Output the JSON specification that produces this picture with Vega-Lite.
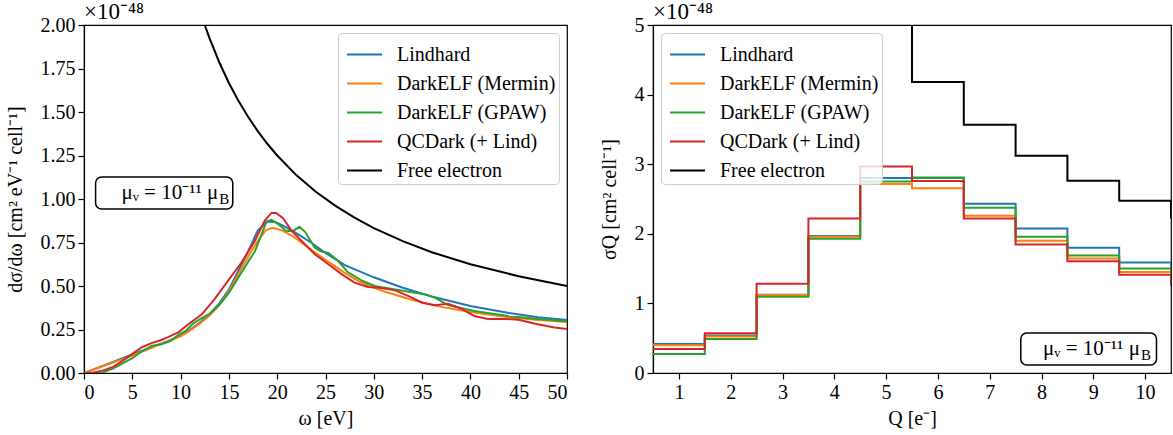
{
  "$schema": "https://vega.github.io/schema/vega-lite/v6.json",
  "autosize": {"type": "pad"},
  "padding": {"left": 4, "top": 0, "right": 0, "bottom": 0},
  "spacing": 29,
  "config": {
    "font": "Liberation Serif",
    "view": {"stroke": "black", "strokeWidth": 1.2},
    "title": {"fontSize": 23, "fontWeight": "normal", "anchor": "start", "frame": "group", "offset": 2, "dy": 11, "color": "black", "font": "Liberation Serif"},
    "axis": {"domainColor": "black", "domainWidth": 1.2, "tickColor": "black", "tickWidth": 1.2, "tickSize": 6, "labelColor": "black", "titleColor": "black", "labelFontSize": 20, "titleFontSize": 20, "titleFontWeight": "normal", "grid": false, "labelPadding": 3, "labelFont": "Liberation Serif", "titleFont": "Liberation Serif"},
    "axisY": {"titlePadding": 15},
    "axisX": {"titlePadding": 6},
    "legend": {"title": null, "labelFontSize": 20, "labelFont": "Liberation Serif", "labelColor": "black", "symbolType": "stroke", "symbolSize": 1225, "symbolStrokeWidth": 2.5, "symbolOffset": 5, "rowPadding": -6, "labelOffset": 14, "padding": 3, "fillColor": "rgba(255,255,255,0.8)", "strokeColor": "#cccccc", "cornerRadius": 4, "offset": 8, "labelLimit": 400}
  },
  "datasets": {
    "left": [
      {"series": "Lindhard", "omega": 0, "val": 0}, {"series": "Lindhard", "omega": 2, "val": 0.042}, {"series": "Lindhard", "omega": 4, "val": 0.085}, {"series": "Lindhard", "omega": 5, "val": 0.106}, {"series": "Lindhard", "omega": 7, "val": 0.148}, {"series": "Lindhard", "omega": 9, "val": 0.19}, {"series": "Lindhard", "omega": 10, "val": 0.215}, {"series": "Lindhard", "omega": 11, "val": 0.25}, {"series": "Lindhard", "omega": 12, "val": 0.29}, {"series": "Lindhard", "omega": 13, "val": 0.338}, {"series": "Lindhard", "omega": 14, "val": 0.4}, {"series": "Lindhard", "omega": 15, "val": 0.48}, {"series": "Lindhard", "omega": 16, "val": 0.59}, {"series": "Lindhard", "omega": 17, "val": 0.7}, {"series": "Lindhard", "omega": 18, "val": 0.82}, {"series": "Lindhard", "omega": 19, "val": 0.87}, {"series": "Lindhard", "omega": 19.8, "val": 0.868}, {"series": "Lindhard", "omega": 20.5, "val": 0.85}, {"series": "Lindhard", "omega": 21.5, "val": 0.82}, {"series": "Lindhard", "omega": 22.5, "val": 0.785}, {"series": "Lindhard", "omega": 23.5, "val": 0.75}, {"series": "Lindhard", "omega": 25, "val": 0.69}, {"series": "Lindhard", "omega": 27, "val": 0.62}, {"series": "Lindhard", "omega": 30, "val": 0.55}, {"series": "Lindhard", "omega": 33, "val": 0.49}, {"series": "Lindhard", "omega": 36, "val": 0.44}, {"series": "Lindhard", "omega": 40, "val": 0.385}, {"series": "Lindhard", "omega": 44, "val": 0.345}, {"series": "Lindhard", "omega": 47, "val": 0.32}, {"series": "Lindhard", "omega": 50, "val": 0.305},
      {"series": "DarkELF (Mermin)", "omega": 0, "val": 0}, {"series": "DarkELF (Mermin)", "omega": 2, "val": 0.04}, {"series": "DarkELF (Mermin)", "omega": 4, "val": 0.08}, {"series": "DarkELF (Mermin)", "omega": 5, "val": 0.1}, {"series": "DarkELF (Mermin)", "omega": 7, "val": 0.145}, {"series": "DarkELF (Mermin)", "omega": 9, "val": 0.19}, {"series": "DarkELF (Mermin)", "omega": 10, "val": 0.21}, {"series": "DarkELF (Mermin)", "omega": 11, "val": 0.245}, {"series": "DarkELF (Mermin)", "omega": 12, "val": 0.285}, {"series": "DarkELF (Mermin)", "omega": 13, "val": 0.33}, {"series": "DarkELF (Mermin)", "omega": 14, "val": 0.39}, {"series": "DarkELF (Mermin)", "omega": 15, "val": 0.47}, {"series": "DarkELF (Mermin)", "omega": 16, "val": 0.57}, {"series": "DarkELF (Mermin)", "omega": 17, "val": 0.67}, {"series": "DarkELF (Mermin)", "omega": 18, "val": 0.76}, {"series": "DarkELF (Mermin)", "omega": 18.8, "val": 0.82}, {"series": "DarkELF (Mermin)", "omega": 19.5, "val": 0.835}, {"series": "DarkELF (Mermin)", "omega": 20.5, "val": 0.82}, {"series": "DarkELF (Mermin)", "omega": 21.5, "val": 0.79}, {"series": "DarkELF (Mermin)", "omega": 23, "val": 0.73}, {"series": "DarkELF (Mermin)", "omega": 25, "val": 0.65}, {"series": "DarkELF (Mermin)", "omega": 27, "val": 0.575}, {"series": "DarkELF (Mermin)", "omega": 28.5, "val": 0.525}, {"series": "DarkELF (Mermin)", "omega": 31, "val": 0.47}, {"series": "DarkELF (Mermin)", "omega": 34, "val": 0.42}, {"series": "DarkELF (Mermin)", "omega": 37, "val": 0.38}, {"series": "DarkELF (Mermin)", "omega": 40, "val": 0.35}, {"series": "DarkELF (Mermin)", "omega": 44, "val": 0.32}, {"series": "DarkELF (Mermin)", "omega": 47, "val": 0.305}, {"series": "DarkELF (Mermin)", "omega": 50, "val": 0.293},
      {"series": "DarkELF (GPAW)", "omega": 0, "val": 0}, {"series": "DarkELF (GPAW)", "omega": 1, "val": 0}, {"series": "DarkELF (GPAW)", "omega": 2, "val": 0.005}, {"series": "DarkELF (GPAW)", "omega": 3, "val": 0.025}, {"series": "DarkELF (GPAW)", "omega": 4, "val": 0.055}, {"series": "DarkELF (GPAW)", "omega": 5, "val": 0.085}, {"series": "DarkELF (GPAW)", "omega": 6, "val": 0.125}, {"series": "DarkELF (GPAW)", "omega": 7, "val": 0.155}, {"series": "DarkELF (GPAW)", "omega": 8, "val": 0.165}, {"series": "DarkELF (GPAW)", "omega": 9, "val": 0.185}, {"series": "DarkELF (GPAW)", "omega": 9.8, "val": 0.22}, {"series": "DarkELF (GPAW)", "omega": 10.5, "val": 0.24}, {"series": "DarkELF (GPAW)", "omega": 11.2, "val": 0.28}, {"series": "DarkELF (GPAW)", "omega": 12, "val": 0.31}, {"series": "DarkELF (GPAW)", "omega": 13, "val": 0.34}, {"series": "DarkELF (GPAW)", "omega": 14, "val": 0.39}, {"series": "DarkELF (GPAW)", "omega": 15, "val": 0.46}, {"series": "DarkELF (GPAW)", "omega": 16, "val": 0.55}, {"series": "DarkELF (GPAW)", "omega": 17, "val": 0.64}, {"series": "DarkELF (GPAW)", "omega": 17.7, "val": 0.7}, {"series": "DarkELF (GPAW)", "omega": 18.4, "val": 0.8}, {"series": "DarkELF (GPAW)", "omega": 18.9, "val": 0.87}, {"series": "DarkELF (GPAW)", "omega": 19.4, "val": 0.88}, {"series": "DarkELF (GPAW)", "omega": 20.1, "val": 0.856}, {"series": "DarkELF (GPAW)", "omega": 20.9, "val": 0.817}, {"series": "DarkELF (GPAW)", "omega": 21.6, "val": 0.815}, {"series": "DarkELF (GPAW)", "omega": 22.3, "val": 0.84}, {"series": "DarkELF (GPAW)", "omega": 22.9, "val": 0.81}, {"series": "DarkELF (GPAW)", "omega": 23.9, "val": 0.72}, {"series": "DarkELF (GPAW)", "omega": 24.5, "val": 0.7}, {"series": "DarkELF (GPAW)", "omega": 25.3, "val": 0.69}, {"series": "DarkELF (GPAW)", "omega": 26.3, "val": 0.645}, {"series": "DarkELF (GPAW)", "omega": 27.3, "val": 0.58}, {"series": "DarkELF (GPAW)", "omega": 28.8, "val": 0.53}, {"series": "DarkELF (GPAW)", "omega": 30.1, "val": 0.5}, {"series": "DarkELF (GPAW)", "omega": 32.2, "val": 0.48}, {"series": "DarkELF (GPAW)", "omega": 33.6, "val": 0.467}, {"series": "DarkELF (GPAW)", "omega": 35.3, "val": 0.452}, {"series": "DarkELF (GPAW)", "omega": 36.3, "val": 0.433}, {"series": "DarkELF (GPAW)", "omega": 37.7, "val": 0.39}, {"series": "DarkELF (GPAW)", "omega": 40.4, "val": 0.356}, {"series": "DarkELF (GPAW)", "omega": 43.9, "val": 0.327}, {"series": "DarkELF (GPAW)", "omega": 47, "val": 0.31}, {"series": "DarkELF (GPAW)", "omega": 50, "val": 0.297},
      {"series": "QCDark (+ Lind)", "omega": 0, "val": 0}, {"series": "QCDark (+ Lind)", "omega": 1, "val": 0.003}, {"series": "QCDark (+ Lind)", "omega": 2, "val": 0.015}, {"series": "QCDark (+ Lind)", "omega": 3, "val": 0.035}, {"series": "QCDark (+ Lind)", "omega": 4, "val": 0.07}, {"series": "QCDark (+ Lind)", "omega": 5, "val": 0.11}, {"series": "QCDark (+ Lind)", "omega": 6, "val": 0.148}, {"series": "QCDark (+ Lind)", "omega": 7, "val": 0.172}, {"series": "QCDark (+ Lind)", "omega": 8, "val": 0.19}, {"series": "QCDark (+ Lind)", "omega": 8.7, "val": 0.206}, {"series": "QCDark (+ Lind)", "omega": 9.8, "val": 0.235}, {"series": "QCDark (+ Lind)", "omega": 10.8, "val": 0.28}, {"series": "QCDark (+ Lind)", "omega": 12.2, "val": 0.337}, {"series": "QCDark (+ Lind)", "omega": 13.5, "val": 0.423}, {"series": "QCDark (+ Lind)", "omega": 14.9, "val": 0.529}, {"series": "QCDark (+ Lind)", "omega": 16.3, "val": 0.635}, {"series": "QCDark (+ Lind)", "omega": 17.7, "val": 0.76}, {"series": "QCDark (+ Lind)", "omega": 18.7, "val": 0.875}, {"series": "QCDark (+ Lind)", "omega": 19.4, "val": 0.92}, {"series": "QCDark (+ Lind)", "omega": 19.9, "val": 0.92}, {"series": "QCDark (+ Lind)", "omega": 20.6, "val": 0.89}, {"series": "QCDark (+ Lind)", "omega": 21.5, "val": 0.817}, {"series": "QCDark (+ Lind)", "omega": 22.5, "val": 0.76}, {"series": "QCDark (+ Lind)", "omega": 23.9, "val": 0.683}, {"series": "QCDark (+ Lind)", "omega": 25.3, "val": 0.625}, {"series": "QCDark (+ Lind)", "omega": 26.7, "val": 0.567}, {"series": "QCDark (+ Lind)", "omega": 28, "val": 0.519}, {"series": "QCDark (+ Lind)", "omega": 29.4, "val": 0.494}, {"series": "QCDark (+ Lind)", "omega": 30.8, "val": 0.488}, {"series": "QCDark (+ Lind)", "omega": 32.2, "val": 0.475}, {"series": "QCDark (+ Lind)", "omega": 33.6, "val": 0.442}, {"series": "QCDark (+ Lind)", "omega": 35, "val": 0.404}, {"series": "QCDark (+ Lind)", "omega": 36.3, "val": 0.39}, {"series": "QCDark (+ Lind)", "omega": 37.7, "val": 0.398}, {"series": "QCDark (+ Lind)", "omega": 39, "val": 0.371}, {"series": "QCDark (+ Lind)", "omega": 40.4, "val": 0.327}, {"series": "QCDark (+ Lind)", "omega": 41.8, "val": 0.311}, {"series": "QCDark (+ Lind)", "omega": 43.6, "val": 0.311}, {"series": "QCDark (+ Lind)", "omega": 45, "val": 0.306}, {"series": "QCDark (+ Lind)", "omega": 46.7, "val": 0.283}, {"series": "QCDark (+ Lind)", "omega": 48.7, "val": 0.262}, {"series": "QCDark (+ Lind)", "omega": 50, "val": 0.253},
      {"series": "Free electron", "omega": 12, "val": 2.083}, {"series": "Free electron", "omega": 12.5, "val": 2.0}, {"series": "Free electron", "omega": 13, "val": 1.923}, {"series": "Free electron", "omega": 14, "val": 1.786}, {"series": "Free electron", "omega": 15, "val": 1.667}, {"series": "Free electron", "omega": 16, "val": 1.5625}, {"series": "Free electron", "omega": 17, "val": 1.471}, {"series": "Free electron", "omega": 18, "val": 1.389}, {"series": "Free electron", "omega": 19, "val": 1.316}, {"series": "Free electron", "omega": 20, "val": 1.25}, {"series": "Free electron", "omega": 22, "val": 1.136}, {"series": "Free electron", "omega": 24, "val": 1.042}, {"series": "Free electron", "omega": 26, "val": 0.962}, {"series": "Free electron", "omega": 28, "val": 0.893}, {"series": "Free electron", "omega": 30, "val": 0.833}, {"series": "Free electron", "omega": 33, "val": 0.758}, {"series": "Free electron", "omega": 36, "val": 0.694}, {"series": "Free electron", "omega": 40, "val": 0.625}, {"series": "Free electron", "omega": 45, "val": 0.556}, {"series": "Free electron", "omega": 50, "val": 0.5}
    ],
    "right": [
      {"series": "Lindhard", "Q_edge": 0.5, "sigma": 0.418}, {"series": "Lindhard", "Q_edge": 1.5, "sigma": 0.538}, {"series": "Lindhard", "Q_edge": 2.5, "sigma": 1.125}, {"series": "Lindhard", "Q_edge": 3.5, "sigma": 1.97}, {"series": "Lindhard", "Q_edge": 4.5, "sigma": 2.8}, {"series": "Lindhard", "Q_edge": 5.5, "sigma": 2.8}, {"series": "Lindhard", "Q_edge": 6.5, "sigma": 2.43}, {"series": "Lindhard", "Q_edge": 7.5, "sigma": 2.077}, {"series": "Lindhard", "Q_edge": 8.5, "sigma": 1.8}, {"series": "Lindhard", "Q_edge": 9.5, "sigma": 1.587}, {"series": "Lindhard", "Q_edge": 10.5, "sigma": 1.42},
      {"series": "DarkELF (Mermin)", "Q_edge": 0.5, "sigma": 0.4}, {"series": "DarkELF (Mermin)", "Q_edge": 1.5, "sigma": 0.524}, {"series": "DarkELF (Mermin)", "Q_edge": 2.5, "sigma": 1.12}, {"series": "DarkELF (Mermin)", "Q_edge": 3.5, "sigma": 1.957}, {"series": "DarkELF (Mermin)", "Q_edge": 4.5, "sigma": 2.716}, {"series": "DarkELF (Mermin)", "Q_edge": 5.5, "sigma": 2.654}, {"series": "DarkELF (Mermin)", "Q_edge": 6.5, "sigma": 2.26}, {"series": "DarkELF (Mermin)", "Q_edge": 7.5, "sigma": 1.9}, {"series": "DarkELF (Mermin)", "Q_edge": 8.5, "sigma": 1.644}, {"series": "DarkELF (Mermin)", "Q_edge": 9.5, "sigma": 1.452}, {"series": "DarkELF (Mermin)", "Q_edge": 10.5, "sigma": 1.28},
      {"series": "DarkELF (GPAW)", "Q_edge": 0.5, "sigma": 0.274}, {"series": "DarkELF (GPAW)", "Q_edge": 1.5, "sigma": 0.49}, {"series": "DarkELF (GPAW)", "Q_edge": 2.5, "sigma": 1.096}, {"series": "DarkELF (GPAW)", "Q_edge": 3.5, "sigma": 1.93}, {"series": "DarkELF (GPAW)", "Q_edge": 4.5, "sigma": 2.75}, {"series": "DarkELF (GPAW)", "Q_edge": 5.5, "sigma": 2.808}, {"series": "DarkELF (GPAW)", "Q_edge": 6.5, "sigma": 2.375}, {"series": "DarkELF (GPAW)", "Q_edge": 7.5, "sigma": 1.957}, {"series": "DarkELF (GPAW)", "Q_edge": 8.5, "sigma": 1.69}, {"series": "DarkELF (GPAW)", "Q_edge": 9.5, "sigma": 1.5}, {"series": "DarkELF (GPAW)", "Q_edge": 10.5, "sigma": 1.35},
      {"series": "QCDark (+ Lind)", "Q_edge": 0.5, "sigma": 0.346}, {"series": "QCDark (+ Lind)", "Q_edge": 1.5, "sigma": 0.572}, {"series": "QCDark (+ Lind)", "Q_edge": 2.5, "sigma": 1.284}, {"series": "QCDark (+ Lind)", "Q_edge": 3.5, "sigma": 2.22}, {"series": "QCDark (+ Lind)", "Q_edge": 4.5, "sigma": 2.966}, {"series": "QCDark (+ Lind)", "Q_edge": 5.5, "sigma": 2.76}, {"series": "QCDark (+ Lind)", "Q_edge": 6.5, "sigma": 2.22}, {"series": "QCDark (+ Lind)", "Q_edge": 7.5, "sigma": 1.846}, {"series": "QCDark (+ Lind)", "Q_edge": 8.5, "sigma": 1.606}, {"series": "QCDark (+ Lind)", "Q_edge": 9.5, "sigma": 1.413}, {"series": "QCDark (+ Lind)", "Q_edge": 10.5, "sigma": 1.25},
      {"series": "Free electron", "Q_edge": 0.5, "sigma": 25}, {"series": "Free electron", "Q_edge": 1.5, "sigma": 12.5}, {"series": "Free electron", "Q_edge": 2.5, "sigma": 8.5}, {"series": "Free electron", "Q_edge": 3.5, "sigma": 6.4}, {"series": "Free electron", "Q_edge": 4.5, "sigma": 5.1}, {"series": "Free electron", "Q_edge": 5.5, "sigma": 4.18}, {"series": "Free electron", "Q_edge": 6.5, "sigma": 3.567}, {"series": "Free electron", "Q_edge": 7.5, "sigma": 3.12}, {"series": "Free electron", "Q_edge": 8.5, "sigma": 2.764}, {"series": "Free electron", "Q_edge": 9.5, "sigma": 2.476}, {"series": "Free electron", "Q_edge": 10.5, "sigma": 2.22}
    ]
  },
  "hconcat": [
    {
      "width": 483,
      "height": 348,
      "title": {"text": "×10⁻⁴⁸"},
      "layer": [
        {
          "data": {"name": "left"},
          "mark": {"type": "line", "clip": true},
          "encoding": {
            "x": {"field": "omega", "type": "quantitative", "scale": {"domain": [0, 50], "nice": false}, "axis": {"values": [0, 5, 10, 15, 20, 25, 30, 35, 40, 45, 50], "title": "ω [eV]"}},
            "y": {"field": "val", "type": "quantitative", "scale": {"domain": [0, 2], "nice": false}, "axis": {"values": [0, 0.25, 0.5, 0.75, 1, 1.25, 1.5, 1.75, 2], "format": ".2f", "title": "dσ/dω [cm² eV⁻¹ cell⁻¹]"}},
            "color": {"field": "series", "type": "nominal", "sort": null, "scale": {"domain": ["Lindhard", "DarkELF (Mermin)", "DarkELF (GPAW)", "QCDark (+ Lind)", "Free electron"], "range": ["#1f77b4", "#ff7f0e", "#2ca02c", "#d62728", "#000000"]}, "legend": {"orient": "top-right"}},
            "strokeWidth": {"field": "series", "type": "nominal", "scale": {"domain": ["Lindhard", "DarkELF (Mermin)", "DarkELF (GPAW)", "QCDark (+ Lind)", "Free electron"], "range": [2, 2, 2, 2, 3.2]}, "legend": null}
          }
        },
        {
          "data": {"values": [{}]},
          "mark": {"type": "rect", "cornerRadius": 6, "fill": "white", "stroke": "black", "strokeWidth": 1.5},
          "encoding": {"x": {"datum": 1.2}, "x2": {"datum": 15.4}, "y": {"datum": 0.943}, "y2": {"datum": 1.126}}
        },
        {
          "data": {"values": [{}]},
          "mark": {"type": "text", "align": "right", "baseline": "middle", "fontSize": 21, "font": "Liberation Serif", "color": "black"},
          "encoding": {"x": {"datum": 13.9}, "y": {"datum": 1.035}, "text": {"value": "μᵥ = 10⁻¹¹ μ"}}
        },
        {
          "data": {"values": [{}]},
          "mark": {"type": "text", "align": "left", "baseline": "middle", "fontSize": 15, "font": "Liberation Serif", "color": "black", "dy": 6, "dx": 1},
          "encoding": {"x": {"datum": 13.9}, "y": {"datum": 1.035}, "text": {"value": "B"}}
        }
      ]
    },
    {
      "width": 518,
      "height": 348,
      "title": {"text": "×10⁻⁴⁸"},
      "layer": [
        {
          "data": {"name": "right"},
          "mark": {"type": "line", "clip": true, "interpolate": "step-after"},
          "encoding": {
            "x": {"field": "Q_edge", "type": "quantitative", "scale": {"domain": [0.5, 10.5], "nice": false}, "axis": {"values": [1, 2, 3, 4, 5, 6, 7, 8, 9, 10], "title": "Q [e⁻]"}},
            "y": {"field": "sigma", "type": "quantitative", "scale": {"domain": [0, 5], "nice": false}, "axis": {"values": [0, 1, 2, 3, 4, 5], "format": "d", "title": "σQ [cm² cell⁻¹]"}},
            "color": {"field": "series", "type": "nominal", "sort": null, "scale": {"domain": ["Lindhard", "DarkELF (Mermin)", "DarkELF (GPAW)", "QCDark (+ Lind)", "Free electron"], "range": ["#1f77b4", "#ff7f0e", "#2ca02c", "#d62728", "#000000"]}, "legend": {"orient": "top-left"}},
            "strokeWidth": {"field": "series", "type": "nominal", "scale": {"domain": ["Lindhard", "DarkELF (Mermin)", "DarkELF (GPAW)", "QCDark (+ Lind)", "Free electron"], "range": [2, 2, 2, 2, 3.2]}, "legend": null}
          }
        },
        {
          "data": {"values": [{}]},
          "mark": {"type": "rect", "cornerRadius": 6, "fill": "white", "stroke": "black", "strokeWidth": 1.5},
          "encoding": {"x": {"datum": 7.6}, "x2": {"datum": 10.22}, "y": {"datum": 0.115}, "y2": {"datum": 0.576}}
        },
        {
          "data": {"values": [{}]},
          "mark": {"type": "text", "align": "right", "baseline": "middle", "fontSize": 21, "font": "Liberation Serif", "color": "black"},
          "encoding": {"x": {"datum": 9.9}, "y": {"datum": 0.35}, "text": {"value": "μᵥ = 10⁻¹¹ μ"}}
        },
        {
          "data": {"values": [{}]},
          "mark": {"type": "text", "align": "left", "baseline": "middle", "fontSize": 15, "font": "Liberation Serif", "color": "black", "dy": 6, "dx": 1},
          "encoding": {"x": {"datum": 9.9}, "y": {"datum": 0.35}, "text": {"value": "B"}}
        }
      ]
    }
  ],
  "resolve": {"scale": {"color": "independent", "strokeWidth": "independent", "x": "independent", "y": "independent"}, "legend": {"color": "independent"}}
}
